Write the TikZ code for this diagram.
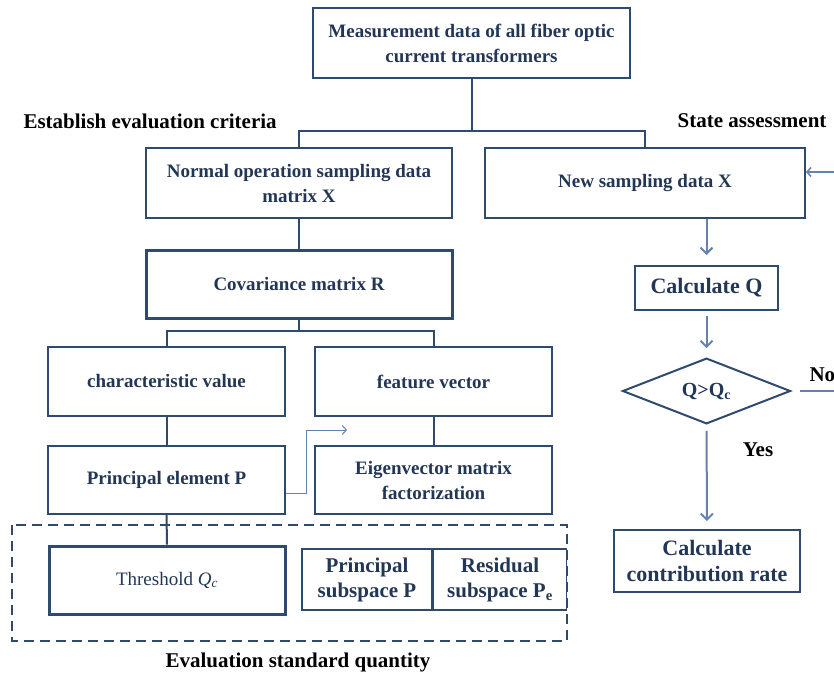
\documentclass[tikz,border=0pt]{standalone}
\usepackage{fontspec}
\setmainfont{Liberation Serif}
\usetikzlibrary{arrows.meta}
\usetikzlibrary{positioning}
\usetikzlibrary{shapes.geometric}
\definecolor{boxblue}{RGB}{46,74,110}
\definecolor{txtblue}{RGB}{34,54,86}
\definecolor{flowblue}{RGB}{100,130,170}
\tikzset{stage/.style={draw=boxblue, line width=2pt, text=txtblue, align=center,
    inner sep=0pt, font=\bfseries\fontsize{19}{25}\selectfont}}
\tikzset{heavy/.style={stage, line width=3pt}}
\tikzset{caption/.style={font=\bfseries\fontsize{21}{24}\selectfont, text=black}}
\tikzset{link/.style={draw=boxblue, line width=2pt}}
\tikzset{flow/.style={draw=flowblue, line width=2pt, -{Straight Barb[length=6pt,width=12pt]}}}
\tikzset{hint/.style={draw=flowblue, line width=1pt, -{Straight Barb[length=4pt,width=9pt]}}}

\begin{document}
\begin{tikzpicture}[x=1pt, y=-1pt]
    \useasboundingbox (0,0) rectangle (834,675);
    % criteria branch
    \node[stage, minimum width=317, minimum height=70] (meas) at (471.5,43) {Measurement data of all fiber optic\\current transformers};
    \node[caption, anchor=west] (crit) at (20,121) {Establish evaluation criteria};
    \node[caption, anchor=east] (state) at (830,121) {State assessment};
    \node[stage, minimum width=306, minimum height=70] (normal) at (299,183) {Normal operation sampling data\\matrix X};
    \node[stage, minimum width=320, minimum height=70] (newdata) at (645,183) {New sampling data X};
    \node[heavy, minimum width=306, minimum height=68] (cov) at (299,284) {Covariance matrix R};
    \node[stage, minimum width=237, minimum height=69] (charval) at (166.5,381.5) {characteristic value};
    \node[stage, minimum width=237, minimum height=69, right = 28 of charval] (featvec) {feature vector};
    \node[stage, minimum width=237, minimum height=68] (princ) at (166.5,480) {Principal element P};
    \node[stage, minimum width=237, minimum height=68, right = 28 of princ] (eigen) {Eigenvector matrix\\factorization};
    % evaluation standard quantity
    \draw[boxblue, line width=2.5pt, dash pattern=on 10pt off 6pt] (12,525) rectangle (567,641);
    \node[heavy, minimum width=236, minimum height=68, font=\fontsize{19}{23}\selectfont] (thresh) at (167,580) {Threshold {\itshape Q}\textsubscript{\itshape c}};
    \node[stage, line width=1.5pt, minimum width=130, minimum height=61, font=\bfseries\fontsize{21}{25}\selectfont] (psub) at (367,579.5) {Principal\\subspace P};
    \node[stage, line width=1.5pt, minimum width=133, minimum height=61, font=\bfseries\fontsize{21}{25}\selectfont, right = 0 of psub] (rsub) {Residual\\subspace P\textsubscript{e}};
    \node[caption] (evalq) at (298,662) {Evaluation standard quantity};
    % assessment branch
    \node[stage, minimum width=143, minimum height=44, font=\bfseries\fontsize{22}{26}\selectfont] (calcq) at (706.5,288) {Calculate Q};
    \node[diamond, draw=boxblue, line width=2pt, text=txtblue, inner sep=0pt, minimum width=168, minimum height=62,
        font=\bfseries\fontsize{20}{24}\selectfont] (test) at (706.5,391) {Q>Q\textsubscript{c}};
    \node[stage, minimum width=186, minimum height=62, font=\bfseries\fontsize{22}{26}\selectfont] (contrib) at (707,561) {Calculate\\contribution rate};
    \node[caption] (yes) at (758,450) {Yes};
    \node[caption, anchor=west] (no) at (806,375) {No};
    \coordinate (split1) at (471.5,131);
    \coordinate (split2) at (299,331);
    \coordinate (fbin) at (834,172);
    \coordinate (noout) at (834,391);
    \coordinate (hintend) at (347,430);

    \draw[link] (meas) -- (split1);
    \draw[link] (normal.north) |- (newdata.north |- split1) -- (newdata.north);
    \draw[link] (normal) -- (cov);
    \draw[link] (cov) -- (split2);
    \draw[link] (charval.north) |- (featvec.north |- split2) -- (featvec.north);
    \draw[link] (charval) -- (princ);
    \draw[link] (featvec) -- (eigen);
    \draw[link] (princ) -- (thresh);
    \draw[hint] ([yshift=-13]princ.east) -- ++(20,0) |- (hintend);
    \draw[flow, shorten >=10pt] (calcq.north |- newdata.south) -- (calcq.north);
    \draw[flow, shorten <=5pt, shorten >=9pt] (calcq) -- (test);
    \draw[flow, shorten <=6pt, shorten >=8pt] (test) -- (contrib);
    \draw[draw=flowblue, line width=1.5pt] ([xshift=8]test.east) -- (noout);
    \draw[hint, line width=1.5pt] (fbin) -- (newdata.east |- fbin);
\end{tikzpicture}
\end{document}
